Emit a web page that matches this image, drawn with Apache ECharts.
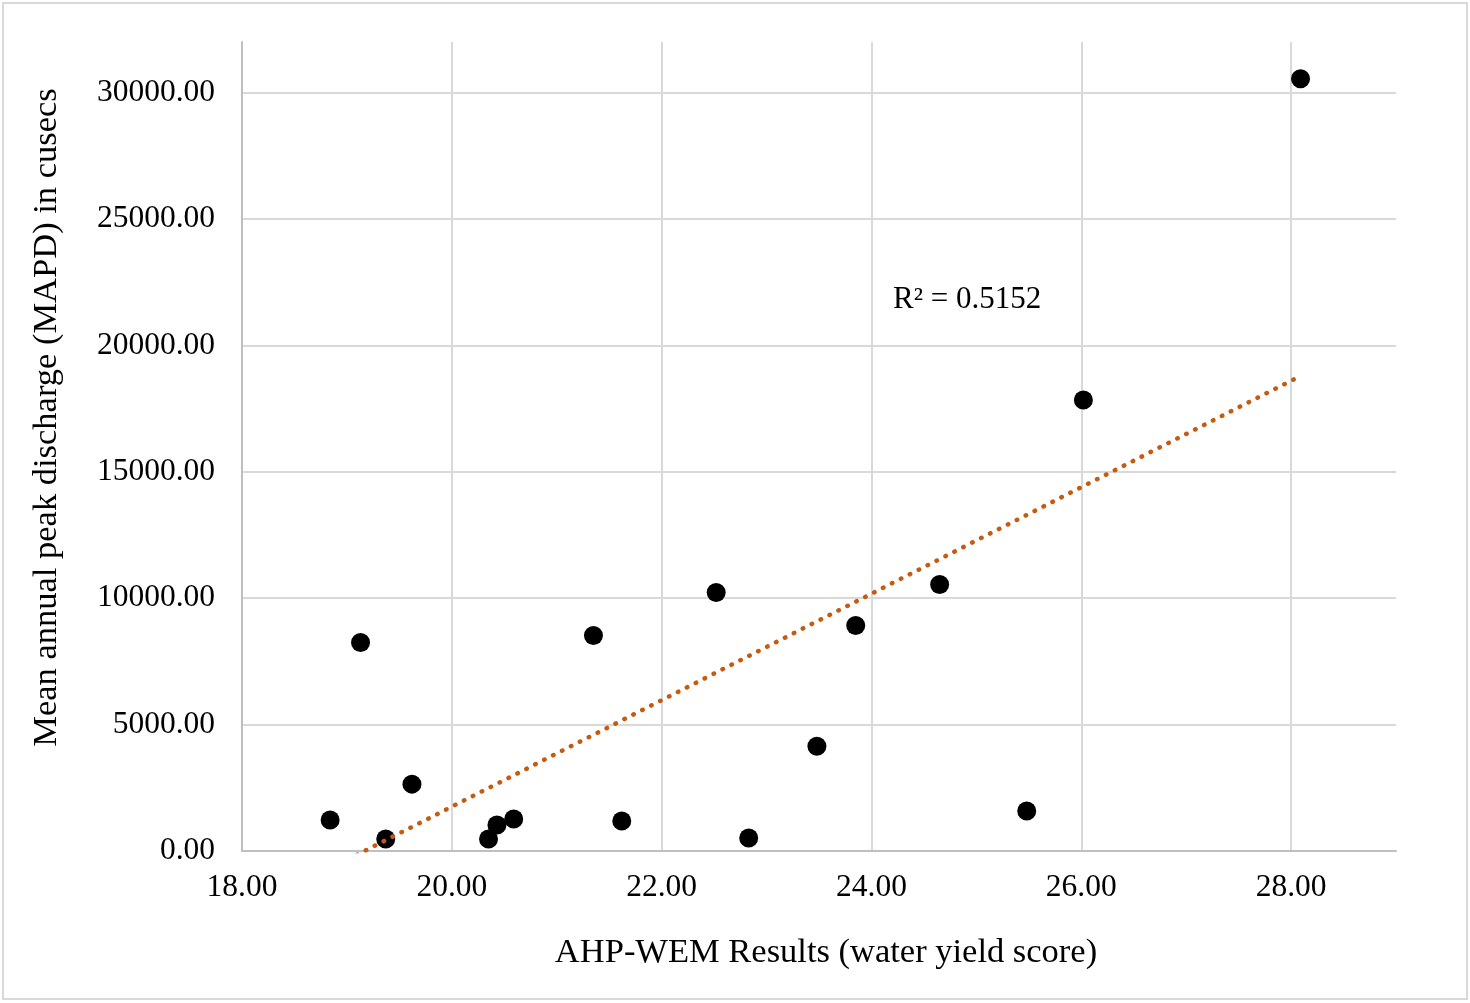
<!DOCTYPE html>
<html>
<head>
<meta charset="utf-8">
<script src="https://cdn.jsdelivr.net/npm/echarts@6/dist/echarts.min.js"></script>
<style>
html,body{margin:0;padding:0;background:#fff;}
#chart{width:1470px;height:1003px;}
</style>
</head>
<body>
<div id="chart"></div>
<script>
// Data
const scoreX = [18.84, 19.13, 19.37, 19.62, 20.35, 20.43, 20.59, 21.35, 21.62, 22.52, 22.83, 23.48, 23.85, 24.65, 25.48, 26.02, 28.09];
const discharge = [1224, 8250, 474, 2645, 474, 1026, 1263, 8526, 1184, 10223, 513, 4144, 8921, 10539, 1579, 17841, 30550];
const trendX = [18.84, 28.09];
const trendY = [-690, 18790];
const r2Text = 'R² = 0.5152';
const xTitle = 'AHP-WEM Results (water yield score)';
const yTitle = 'Mean annual peak discharge (MAPD) in cusecs';

const font = '"Liberation Serif", "Times New Roman", serif';
const chart = echarts.init(document.getElementById('chart'));
chart.setOption({
  animation: false,
  backgroundColor: '#fff',
  grid: {left: 242, right: 74, top: 42, bottom: 152, containLabel: false},
  xAxis: {
    type: 'value', min: 18, max: 29, interval: 2,
    name: xTitle, nameLocation: 'middle', nameGap: 84,
    nameTextStyle: {fontFamily: font, fontSize: 34.5, color: '#000', padding: [0, 0, 0, 14]},
    axisLine: {show: true, onZero: false, lineStyle: {color: '#bfbfbf', width: 2}},
    axisTick: {show: false},
    axisLabel: {fontFamily: font, fontSize: 31.5, color: '#000', margin: 21, showMaxLabel: false,
      formatter: v => v.toFixed(2)},
    splitLine: {show: true, showMinLine: false, showMaxLine: false, lineStyle: {color: '#d9d9d9', width: 2}}
  },
  yAxis: {
    type: 'value', min: 0, max: 32000, interval: 5000,
    name: yTitle, nameLocation: 'middle', nameGap: 178, nameRotate: 90,
    nameTextStyle: {fontFamily: font, fontSize: 34.5, color: '#000', padding: [0, 0, 0, 58]},
    axisLine: {show: true, lineStyle: {color: '#bfbfbf', width: 2}},
    axisTick: {show: false},
    axisLabel: {fontFamily: font, fontSize: 31.5, color: '#000', margin: 27, showMaxLabel: false,
      formatter: v => v.toFixed(2)},
    splitLine: {show: true, showMinLine: false, showMaxLine: false, lineStyle: {color: '#d9d9d9', width: 2}}
  },
  series: [
    {
      type: 'line',
      data: trendX.map((x, i) => [x, trendY[i]]),
      symbol: 'none',
      clip: true,
      lineStyle: {color: '#C55A11', width: 4.5, type: [0.5, 9.5], cap: 'round'},
      z: 3
    },
    {
      type: 'scatter',
      data: scoreX.map((x, i) => [x, discharge[i]]),
      symbol: 'circle',
      symbolSize: 19,
      itemStyle: {color: '#000', opacity: 1},
      z: 2
    }
  ],
  graphic: [
    {type: 'rect', shape: {x: 3, y: 3, width: 1464, height: 996},
     style: {fill: 'none', stroke: '#d9d9d9', lineWidth: 2}, silent: true},
    {type: 'text', left: 893, top: 284,
     style: {text: r2Text, fontFamily: font, fontSize: 31, fill: '#000'}}
  ]
});
</script>
</body>
</html>
